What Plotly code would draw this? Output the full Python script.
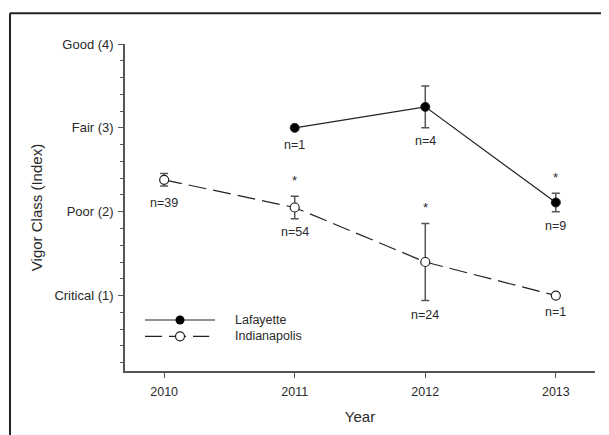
import plotly.graph_objects as go

# ---- data ----
years = [2010, 2011, 2012, 2013]
laf_years = [2011, 2012, 2013]
laf_vigor = [3.0, 3.25, 2.11]
laf_err = [0.0, 0.25, 0.11]
laf_n = ["n=1", "n=4", "n=9"]

ind_years = [2010, 2011, 2012, 2013]
ind_vigor = [2.38, 2.05, 1.40, 1.0]
ind_err = [0.075, 0.135, 0.46, 0.0]
ind_n = ["n=39", "n=54", "n=24", "n=1"]

y_tickvals = [1, 2, 3, 4]
y_ticktext = ["Critical (1)", "Poor (2)", "Fair (3)", "Good (4)"]
x_ticklabels = ["2010", "2011", "2012", "2013"]

# significance stars: (series, year)
star_points = [("ind", 2011), ("ind", 2012), ("laf", 2013)]

FONT = "Liberation Sans, Arial, sans-serif"
TXT = "#2a2a2a"
LINE = "#222222"
AX = "#555555"
FS = 12.5

fig = go.Figure()

fig.add_trace(go.Scatter(
    x=ind_years, y=ind_vigor, mode="lines+markers", name="Indianapolis",
    line=dict(color=LINE, width=1.2, dash="18px,7px"),
    marker=dict(symbol="circle", size=9, color="white", line=dict(color=LINE, width=1.2)),
    error_y=dict(type="data", array=ind_err, visible=True, color=AX, thickness=1.5, width=4),
    showlegend=False,
))
fig.add_trace(go.Scatter(
    x=laf_years, y=laf_vigor, mode="lines+markers", name="Lafayette",
    line=dict(color=LINE, width=1.2),
    marker=dict(symbol="circle", size=9, color="black", line=dict(color=LINE, width=1)),
    error_y=dict(type="data", array=laf_err, visible=True, color=AX, thickness=1.5, width=4),
    showlegend=False,
))

annotations = []
laf_shift = [-17, -34, -24]
for x, y, t, s in zip(laf_years, laf_vigor, laf_n, laf_shift):
    annotations.append(dict(x=x, y=y, text=t, showarrow=False, yshift=s,
                            font=dict(family=FONT, size=FS, color=TXT)))
ind_shift = [-23, -24, -53, -16]
for x, y, t, s in zip(ind_years, ind_vigor, ind_n, ind_shift):
    annotations.append(dict(x=x, y=y, text=t, showarrow=False, yshift=s,
                            font=dict(family=FONT, size=FS, color=TXT)))

lookup = {"laf": dict(zip(laf_years, zip(laf_vigor, laf_err))),
          "ind": dict(zip(ind_years, zip(ind_vigor, ind_err)))}
for ser, yr in star_points:
    v, e = lookup[ser][yr]
    annotations.append(dict(x=yr, y=v + e, text="*", showarrow=False, yshift=16,
                            font=dict(family=FONT, size=13, color=TXT)))

# manual legend on overlay axes
fig.add_trace(go.Scatter(x=[0.0426, 0.1915], y=[0.156, 0.156], mode="lines",
                         line=dict(color=LINE, width=1.2), xaxis="x2", yaxis="y2",
                         showlegend=False, hoverinfo="skip"))
fig.add_trace(go.Scatter(x=[0.117], y=[0.156], mode="markers",
                         marker=dict(size=9, color="black"), xaxis="x2", yaxis="y2",
                         showlegend=False, hoverinfo="skip"))
fig.add_trace(go.Scatter(x=[0.0426, 0.1793], y=[0.106, 0.106], mode="lines",
                         line=dict(color=LINE, width=1.2, dash="17px,7px"), xaxis="x2", yaxis="y2",
                         showlegend=False, hoverinfo="skip"))
fig.add_trace(go.Scatter(x=[0.117], y=[0.106], mode="markers",
                         marker=dict(size=9, color="white", line=dict(color=LINE, width=1.2)),
                         xaxis="x2", yaxis="y2", showlegend=False, hoverinfo="skip"))
annotations.append(dict(x=0.2298, y=0.156, xref="x2", yref="y2", text="Lafayette",
                        showarrow=False, xanchor="left", font=dict(family=FONT, size=FS, color=TXT)))
annotations.append(dict(x=0.2298, y=0.106, xref="x2", yref="y2", text="Indianapolis",
                        showarrow=False, xanchor="left", font=dict(family=FONT, size=FS, color=TXT)))

fig.update_layout(
    width=601, height=427,
    margin=dict(l=117, r=14, t=36, b=62),
    paper_bgcolor="white", plot_bgcolor="white",
    font=dict(family=FONT, size=FS, color=TXT),
    annotations=annotations,
    xaxis=dict(range=[2009.7, 2013.3], tickvals=years, ticktext=x_ticklabels,
               showline=True, linecolor=AX, linewidth=1.5, ticks="outside",
               ticklen=5, tickcolor=AX, showgrid=False, zeroline=False,
               ticklabelstandoff=3,
               title=dict(text="Year", font=dict(size=15, color=TXT), standoff=14),
               tickfont=dict(size=FS, color=TXT)),
    yaxis=dict(range=[0.1, 4.0], tickvals=y_tickvals, ticktext=y_ticktext,
               showline=True, linecolor=AX, linewidth=1.5, ticks="outside",
               ticklen=5, tickcolor=AX, showgrid=False, zeroline=False,
               ticklabelstandoff=2,
               minor=dict(dtick=0.2, tick0=0, ticks="outside", ticklen=3, tickcolor=AX, showgrid=False),
               title=dict(text="Vigor Class (Index)", font=dict(size=15, color=TXT), standoff=8),
               tickfont=dict(size=13, color=TXT)),
    xaxis2=dict(range=[0, 1], overlaying="x", visible=False, fixedrange=True),
    yaxis2=dict(range=[0, 1], overlaying="y", visible=False, fixedrange=True),
    shapes=[
        dict(type="line", xref="paper", yref="paper", x0=-0.2447, x1=1.2, y0=1.0942, y1=1.0942,
             line=dict(color="#222222", width=2)),
        dict(type="line", xref="paper", yref="paper", x0=-0.2447, x1=-0.2447, y0=-0.5, y1=1.0942,
             line=dict(color="#222222", width=2)),
    ],
)

fig.write_html("out.html")
